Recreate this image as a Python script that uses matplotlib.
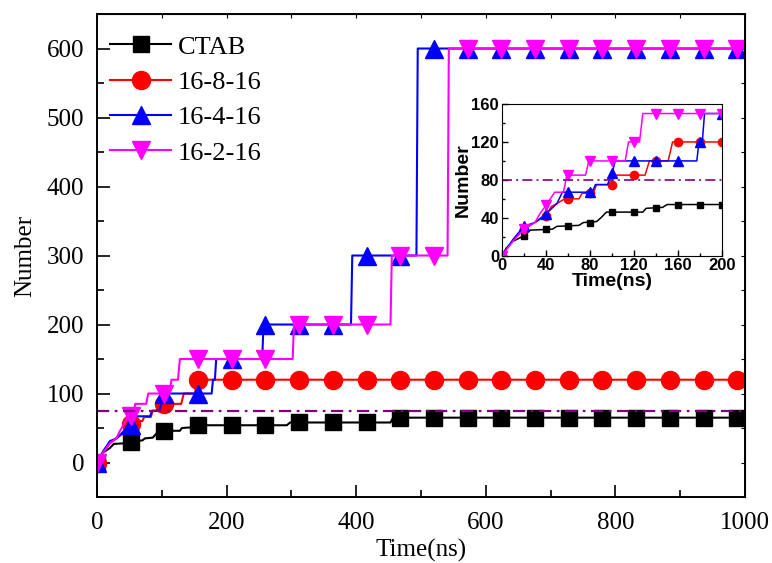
import numpy as np
import matplotlib.pyplot as plt
from matplotlib.lines import Line2D
from matplotlib.ticker import MultipleLocator

# cluster number vs. time, step curves (time in ns)
t_ctab = [0, 4, 10, 20, 26, 46, 50, 70, 74, 86, 90, 95, 128, 131, 146, 150, 293, 298, 453, 457, 1000]
n_ctab = [0, 8, 15, 21, 27, 28, 31, 32, 35, 36, 40, 46, 46, 50, 51, 54, 54, 58, 58, 65, 65]

t_868 = [0, 10, 20, 30, 40, 45, 50, 57, 70, 73, 83, 86, 99, 102, 130, 134, 151, 155, 1000]
n_868 = [0, 16, 28, 35, 42, 52, 55, 60, 60, 66, 66, 75, 75, 85, 85, 100, 100, 120, 120]

t_848 = [0, 10, 20, 30, 40, 50, 55, 82, 85, 96, 100, 103, 177, 179, 182, 184, 255, 257, 392, 394, 493, 495, 1000]
n_848 = [0, 17, 31, 35, 44, 55, 67, 67, 75, 75, 87, 100, 100, 120, 120, 150, 150, 200, 200, 300, 300, 600, 600]

t_828 = [0, 10, 20, 30, 35, 40, 48, 56, 59, 76, 79, 112, 115, 125, 128, 302, 304, 453, 455, 541, 543, 1000]
n_828 = [0, 15, 28, 35, 45, 53, 67, 67, 85, 85, 100, 100, 120, 120, 150, 150, 200, 200, 300, 300, 600, 600]

# symbol positions on the full-range plot
t_sym = [0, 52, 104, 156, 208, 260, 312, 364, 416, 468, 520, 572, 624, 676, 728, 780, 832, 884, 936, 988]
sym_ctab = [0, 30, 46, 54, 54, 54, 58, 58, 58, 65, 65, 65, 65, 65, 65, 65, 65, 65, 65, 65]
sym_868 = [0, 56, 85, 120, 120, 120, 120, 120, 120, 120, 120, 120, 120, 120, 120, 120, 120, 120, 120, 120]
sym_848 = [0, 55, 100, 100, 150, 200, 200, 200, 300, 300, 600, 600, 600, 600, 600, 600, 600, 600, 600, 600]
sym_828 = [0, 67, 100, 150, 150, 150, 200, 200, 200, 300, 300, 600, 600, 600, 600, 600, 600, 600, 600, 600]

# symbol positions on the 0-200 ns inset
t_sym_in = [0, 20, 40, 60, 80, 100, 120, 140, 160, 180, 200]
sym_in_ctab = [0, 21, 28, 31, 35, 46, 46, 50, 54, 54, 54]
sym_in_868 = [0, 28, 42, 60, 66, 75, 85, 100, 120, 120, 120]
sym_in_848 = [0, 31, 44, 67, 67, 87, 100, 100, 100, 120, 150]
sym_in_828 = [0, 28, 53, 85, 100, 100, 120, 150, 150, 150, 150]

labels = ['CTAB', '16-8-16', '16-4-16', '16-2-16']
colors = ['black', '#ff0000', '#0000ff', '#ff00ff']
markers = ['s', 'o', '^', 'v']

ref_main = 74
ref_inset = 80

lines = [(t_ctab, n_ctab), (t_868, n_868), (t_848, n_848), (t_828, n_828)]
syms = [sym_ctab, sym_868, sym_848, sym_828]
syms_in = [sym_in_ctab, sym_in_868, sym_in_848, sym_in_828]

serif = 'Liberation Serif'
sans = 'Liberation Sans'

fig = plt.figure(figsize=(7.72, 5.63), dpi=100)
ax = fig.add_axes([0.1256, 0.1172, 0.8394, 0.8579])

ms_main = [11.5, 13, 13, 13]
for (t, n), s, c, m, ms in zip(lines, syms, colors, markers, ms_main):
    ax.plot(t, n, color=c, lw=1.5)
    ax.plot(t_sym, s, ls='none', marker=m, ms=ms, color=c)

ax.axhline(ref_main, color='#800080', lw=1.6, ls=(0, (5.5, 2.5, 1.2, 2.5)))

ax.set_xlim(0, 1000)
ax.set_ylim(-50, 650)
ax.xaxis.set_major_locator(MultipleLocator(200))
ax.xaxis.set_minor_locator(MultipleLocator(100))
ax.yaxis.set_major_locator(MultipleLocator(100))
ax.yaxis.set_minor_locator(MultipleLocator(50))
ax.tick_params(which='both', direction='in', width=1.2, labelsize=18)
ax.tick_params(axis='x', pad=11)
ax.tick_params(axis='y', pad=9)
ax.tick_params(which='major', length=9)
ax.tick_params(which='minor', length=5)
for lab in ax.get_xticklabels() + ax.get_yticklabels():
    lab.set_family(serif)
for sp in ax.spines.values():
    sp.set_linewidth(1.4)

# short ticks along the top and right frame
top = ax.secondary_xaxis('top')
top.xaxis.set_major_locator(MultipleLocator(100))
top.tick_params(direction='in', length=3, labeltop=False)
right = ax.secondary_yaxis('right')
right.yaxis.set_major_locator(MultipleLocator(50))
right.tick_params(direction='in', length=3, labelright=False)

ax.set_xlabel('Time(ns)', family=serif, fontsize=18, labelpad=3)
ax.set_ylabel('Number', family=serif, fontsize=18, labelpad=8)

handles = [Line2D([], [], color=c, lw=1.5, marker=m, ms=ms)
           for c, m, ms in zip(colors, markers, ms_main)]
ax.legend(handles, labels, loc='upper left', bbox_to_anchor=(-0.012, 1.0), frameon=False,
          prop={'family': serif, 'size': 19}, handlelength=2.3, handletextpad=0.25,
          labelspacing=0.45, borderaxespad=0.5, borderpad=0.3)

# inset: first 200 ns
axi = fig.add_axes([0.650, 0.5458, 0.2854, 0.2694])
ms_in = [5, 6, 6.5, 6.5]
for (t, n), s, c, m, ms in zip(lines, syms_in, colors, markers, ms_in):
    axi.plot(t, n, color=c, lw=1.1)
    axi.plot(t_sym_in, s, ls='none', marker=m, ms=ms, color=c)
axi.axhline(ref_inset, color='#800080', lw=1.2, ls=(0, (6, 2.5, 1.2, 2.5)))

axi.set_xlim(0, 200)
axi.set_ylim(0, 160)
axi.xaxis.set_major_locator(MultipleLocator(40))
axi.xaxis.set_minor_locator(MultipleLocator(20))
axi.yaxis.set_major_locator(MultipleLocator(40))
axi.yaxis.set_minor_locator(MultipleLocator(20))
axi.tick_params(which='both', direction='in', width=1.0, labelsize=12, pad=2)
axi.tick_params(which='major', length=4)
axi.tick_params(which='minor', length=2.5)
for lab in axi.get_xticklabels() + axi.get_yticklabels():
    lab.set_family(sans)
    lab.set_weight('bold')
axi.set_xlabel('Time(ns)', family=sans, weight='bold', fontsize=14, labelpad=0)
axi.set_ylabel('Number', family=sans, weight='bold', fontsize=14, labelpad=0)

fig.savefig('out.png', dpi=100)
